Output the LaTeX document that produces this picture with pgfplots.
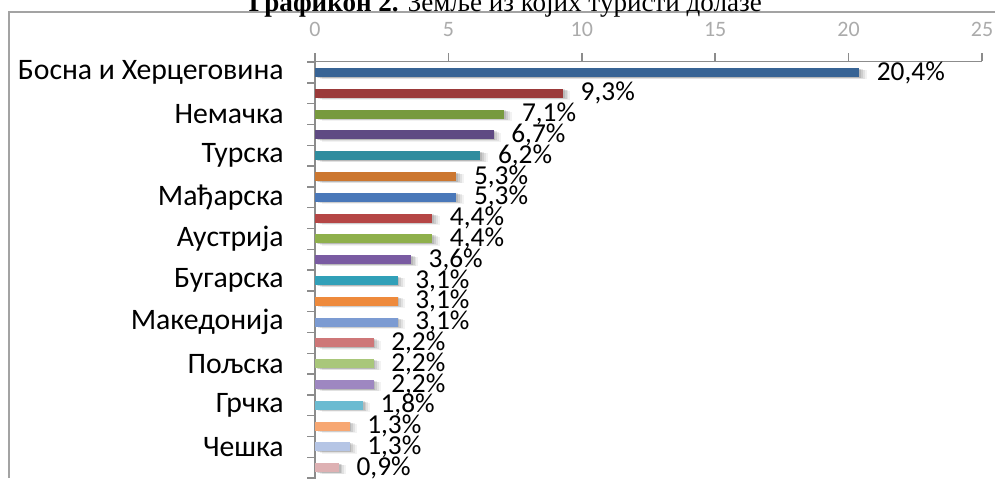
\documentclass[border=0pt]{standalone}
\usepackage{pgfplots}
\pgfplotsset{compat=1.18}
\usepackage{fontspec}
\setmainfont{Carlito}
\newfontfamily\titlefont{Liberation Serif}

\definecolor{c1}{HTML}{386495}
\definecolor{c2}{HTML}{9B3A3A}
\definecolor{c3}{HTML}{779A3E}
\definecolor{c4}{HTML}{5F4A83}
\definecolor{c5}{HTML}{2F8C9E}
\definecolor{c6}{HTML}{CC7730}
\definecolor{c7}{HTML}{4A78B9}
\definecolor{c8}{HTML}{B54645}
\definecolor{c9}{HTML}{8FB04C}
\definecolor{c10}{HTML}{7A5BA2}
\definecolor{c11}{HTML}{31A0B8}
\definecolor{c12}{HTML}{EE8A3C}
\definecolor{c13}{HTML}{7C9BD2}
\definecolor{c14}{HTML}{CE7778}
\definecolor{c15}{HTML}{A9C77A}
\definecolor{c16}{HTML}{9E87C1}
\definecolor{c17}{HTML}{6BBBD1}
\definecolor{c18}{HTML}{F7A772}
\definecolor{c19}{HTML}{B5C5E5}
\definecolor{c20}{HTML}{DEB1B3}
\definecolor{axgray}{HTML}{8C8C8C}
\definecolor{tickgray}{HTML}{ABABAB}

\begin{document}
\begin{tikzpicture}
\useasboundingbox (0pt,0pt) rectangle (746.25pt,-358.5pt);
\clip (0pt,0pt) rectangle (746.25pt,-358.5pt);
% frame and cut title
\draw[axgray!80, line width=1.1pt] (6.75pt,-358.5pt) -- (6.75pt,-9pt) -- (746.25pt,-9pt);
\node[anchor=base, inner sep=0pt, font=\titlefont\fontsize{20.3}{20.3}\selectfont] at (379pt,-9pt)
  {\textbf{Графикон 2.} Земље из којих туристи долазе};
\begin{axis}[
    at={(236.25pt,-46.1pt)}, anchor=north west,
    scale only axis,
    width=500.25pt, height=320.25pt,
    xmin=0, xmax=25,
    ymin=0.47, ymax=21,
    y dir=reverse,
    axis x line*=top,
    axis y line*=left,
    axis line style={axgray, line width=1.1pt},
    tick style={axgray, line width=1.1pt},
    tick align=outside,
    major tick length=6pt,
    xtick={0,5,...,25},
    xticklabel style={font=\fontsize{16.5}{16.5}\selectfont, text=tickgray, yshift=9pt},
    ytick={0.5,1.5,...,20.5},
    yticklabels={},
    extra y ticks={1,3,...,19},
    extra y tick labels={Босна и Херцеговина,Немачка,Турска,Мађарска,Аустрија,Бугарска,Македонија,Пољска,Грчка,Чешка},
    extra y tick style={major tick length=0pt, yticklabel style={font=\fontsize{22.3}{22.3}\selectfont, text=black, xshift=-20pt}},
    /pgf/number format/assume math mode=true,
    xbar, bar width=6.75pt, bar shift=0pt,
    point meta=x,
    nodes near coords={\pgfmathprintnumber[use comma, fixed, fixed zerofill, precision=1]{\pgfplotspointmeta}\%},
    every node near coord/.append style={font=\fontsize{20.5}{20.5}\selectfont, text=black, xshift=13pt, inner sep=0pt},
    bshadow/.style={
      preaction={fill=black, fill opacity=0.05, transform canvas={xshift=5.5pt, yshift=-1.6pt}},
      preaction={fill=black, fill opacity=0.07, transform canvas={xshift=4pt, yshift=-1.2pt}},
      preaction={fill=black, fill opacity=0.09, transform canvas={xshift=2.6pt, yshift=-0.8pt}},
      preaction={fill=black, fill opacity=0.10, transform canvas={xshift=1.3pt, yshift=-0.4pt}}},
]
\addplot[draw=none, fill=c1, bshadow] coordinates {(20.4,1)};
\addplot[draw=none, fill=c2, bshadow] coordinates {(9.3,2)};
\addplot[draw=none, fill=c3, bshadow] coordinates {(7.1,3)};
\addplot[draw=none, fill=c4, bshadow] coordinates {(6.7,4)};
\addplot[draw=none, fill=c5, bshadow] coordinates {(6.2,5)};
\addplot[draw=none, fill=c6, bshadow] coordinates {(5.3,6)};
\addplot[draw=none, fill=c7, bshadow] coordinates {(5.3,7)};
\addplot[draw=none, fill=c8, bshadow] coordinates {(4.4,8)};
\addplot[draw=none, fill=c9, bshadow] coordinates {(4.4,9)};
\addplot[draw=none, fill=c10, bshadow] coordinates {(3.6,10)};
\addplot[draw=none, fill=c11, bshadow] coordinates {(3.1,11)};
\addplot[draw=none, fill=c12, bshadow] coordinates {(3.1,12)};
\addplot[draw=none, fill=c13, bshadow] coordinates {(3.1,13)};
\addplot[draw=none, fill=c14, bshadow] coordinates {(2.2,14)};
\addplot[draw=none, fill=c15, bshadow] coordinates {(2.2,15)};
\addplot[draw=none, fill=c16, bshadow] coordinates {(2.2,16)};
\addplot[draw=none, fill=c17, bshadow] coordinates {(1.8,17)};
\addplot[draw=none, fill=c18, bshadow] coordinates {(1.3,18)};
\addplot[draw=none, fill=c19, bshadow] coordinates {(1.3,19)};
\addplot[draw=none, fill=c20, bshadow] coordinates {(0.9,20)};
\end{axis}
\end{tikzpicture}
\end{document}
